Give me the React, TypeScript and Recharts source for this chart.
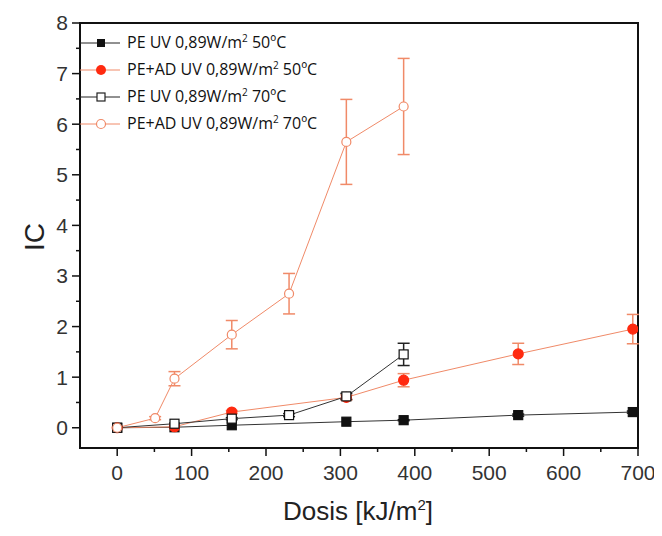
import React from "react";
import { LineChart, Line, XAxis, YAxis, ErrorBar, ReferenceArea } from "recharts";

// dose values in kJ/m2, one array per series
const doseA = [0, 77, 154, 308, 385, 539, 693];
const peUv50 = [0, 0.01, 0.05, 0.12, 0.15, 0.25, 0.31];
const peUv50Err = [0, 0, 0, 0, 0.01, 0.02, 0.02];

const doseB = [0, 77, 154, 308, 385, 539, 693];
const peAdUv50 = [0, 0.02, 0.31, 0.6, 0.94, 1.46, 1.95];
const peAdUv50Err = [0, 0, 0.03, 0.05, 0.13, 0.21, 0.29];

const doseC = [0, 77, 154, 231, 308, 385];
const peUv70 = [0, 0.08, 0.18, 0.25, 0.62, 1.45];
const peUv70Err = [0, 0, 0.02, 0.03, 0.06, 0.22];

const doseD = [0, 51, 77, 154, 231, 308, 385];
const peAdUv70 = [0, 0.19, 0.97, 1.84, 2.65, 5.65, 6.35];
const peAdUv70Err = [0, 0.03, 0.14, 0.28, 0.4, 0.84, 0.95];

const xMajor = [0, 100, 200, 300, 400, 500, 600, 700];
const xMinor = [50, 150, 250, 350, 450, 550, 650];
const yMajor = [0, 1, 2, 3, 4, 5, 6, 7, 8];
const yMinor = [0.5, 1.5, 2.5, 3.5, 4.5, 5.5, 6.5, 7.5];

const names = [
  "PE UV 0,89W/m|2| 50ºC",
  "PE+AD UV 0,89W/m|2| 50ºC",
  "PE UV 0,89W/m|2| 70ºC",
  "PE+AD UV 0,89W/m|2| 70ºC",
];

const build = (xs: number[], ys: number[], es: number[]) =>
  xs.map((x, i) => ({ x, y: ys[i], err: es[i] }));

const RED = "#ff2a10";
const SALMON = "#f08a68";

const SquareDot = (fill: string) => (props: any) => {
  const { cx, cy } = props;
  if (cx == null || cy == null) return null;
  return <rect x={cx - 4.5} y={cy - 4.5} width={9} height={9} fill={fill} stroke="#111" strokeWidth={1.2} />;
};
const CircleDot = (fill: string, stroke: string, r: number) => (props: any) => {
  const { cx, cy } = props;
  if (cx == null || cy == null) return null;
  return <circle cx={cx} cy={cy} r={r} fill={fill} stroke={stroke} strokeWidth={1.2} />;
};

const YTick = (props: any) => {
  const { x, y, payload } = props;
  const major = yMajor.includes(payload.value);
  return (
    <g>
      <line x1={x - (major ? 8 : 4)} x2={x} y1={y} y2={y} stroke="#111" strokeWidth={1.5} />
      {major && (
        <text x={x - 12} y={y} dy="0.35em" textAnchor="end" fontSize={21} fill="#333" fontFamily="Liberation Sans, Arial">
          {payload.value}
        </text>
      )}
    </g>
  );
};

const XTick = (props: any) => {
  const { x, y, payload } = props;
  const major = xMajor.includes(payload.value);
  return (
    <g>
      <line x1={x} x2={x} y1={y} y2={y + (major ? 8 : 4)} stroke="#111" strokeWidth={1.5} />
      {major && (
        <text x={x} y={y + 25} dy="0.35em" textAnchor="middle" fontSize={21} fill="#333" fontFamily="Liberation Sans, Arial">
          {payload.value}
        </text>
      )}
    </g>
  );
};

const legendIcons = [
  (
    <svg width={40} height={14}>
      <line x1={0} x2={40} y1={7} y2={7} stroke="#222" />
      <rect x={17} y={3} width={8} height={8} fill="#111" />
    </svg>
  ),
  (
    <svg width={40} height={14}>
      <line x1={0} x2={40} y1={7} y2={7} stroke={SALMON} />
      <circle cx={21} cy={7} r={5} fill={RED} />
    </svg>
  ),
  (
    <svg width={40} height={14}>
      <line x1={0} x2={40} y1={7} y2={7} stroke="#222" />
      <rect x={17} y={3} width={8} height={8} fill="#fff" stroke="#222" strokeWidth={1.2} />
    </svg>
  ),
  (
    <svg width={40} height={14}>
      <line x1={0} x2={40} y1={7} y2={7} stroke={SALMON} />
      <circle cx={21} cy={7} r={4.5} fill="#fff" stroke={SALMON} strokeWidth={1.2} />
    </svg>
  ),
];

const LegendBox = () => (
  <div style={{ position: "absolute", left: 72, top: 21, fontFamily: "Open Sans", fontSize: 16, color: "#111" }}>
    {names.map((n, i) => {
      const [a, b, c] = n.split("|");
      return (
        <div key={n} style={{ display: "flex", alignItems: "center", height: 27 }}>
          {legendIcons[i]}
          <span style={{ marginLeft: 7, whiteSpace: "nowrap" }}>
            {a}
            <sup style={{ fontSize: 10 }}>{b}</sup>
            {c}
          </span>
        </div>
      );
    })}
  </div>
);

export default function App() {
  const s1 = build(doseA, peUv50, peUv50Err);
  const s2 = build(doseB, peAdUv50, peAdUv50Err);
  const s3 = build(doseC, peUv70, peUv70Err);
  const s4 = build(doseD, peAdUv70, peAdUv70Err);
  return (
    <div style={{ position: "relative", width: 654, height: 520, background: "#fff" }}>
      <LineChart width={654} height={520} margin={{ top: 15, right: 24, left: 0, bottom: 0 }} style={{ overflow: "visible" }}>
        <XAxis
          dataKey="x"
          type="number"
          domain={[-50, 700]}
          ticks={[...xMajor, ...xMinor].sort((a, b) => a - b)}
          tick={<XTick />}
          tickLine={false}
          tickSize={0}
          tickMargin={0}
          height={80}
          axisLine={{ stroke: "#111", strokeWidth: 2 }}
          allowDataOverflow
        />
        <YAxis
          type="number"
          domain={[-0.4, 8]}
          ticks={[...yMajor, ...yMinor].sort((a, b) => a - b)}
          tick={<YTick />}
          tickLine={false}
          tickSize={0}
          tickMargin={0}
          width={72}
          axisLine={{ stroke: "#111", strokeWidth: 2 }}
          allowDataOverflow
        />
        <ReferenceArea x1={-50} x2={700} y1={-0.4} y2={8} fill="none" stroke="#111" strokeWidth={2} />
        <Line data={s1} dataKey="y" name="PE UV 50" stroke="#333" strokeWidth={1} dot={SquareDot("#111")} isAnimationActive={false}>
          <ErrorBar dataKey="err" width={6} stroke="#111" isAnimationActive={false} />
        </Line>
        <Line data={s2} dataKey="y" name="PE+AD UV 50" stroke={SALMON} strokeWidth={1} dot={CircleDot(RED, RED, 5)} isAnimationActive={false}>
          <ErrorBar dataKey="err" width={6} stroke={SALMON} isAnimationActive={false} />
        </Line>
        <Line data={s3} dataKey="y" name="PE UV 70" stroke="#333" strokeWidth={1} dot={SquareDot("#fff")} isAnimationActive={false}>
          <ErrorBar dataKey="err" width={6} stroke="#222" isAnimationActive={false} />
        </Line>
        <Line data={s4} dataKey="y" name="PE+AD UV 70" stroke={SALMON} strokeWidth={1} dot={CircleDot("#fff", SALMON, 4.5)} isAnimationActive={false}>
          <ErrorBar dataKey="err" width={6} stroke={SALMON} isAnimationActive={false} />
        </Line>
      </LineChart>
      <LegendBox />
      <div
        style={{
          position: "absolute",
          left: 27,
          top: 229,
          transform: "translate(-50%, -50%) rotate(-90deg)",
          fontFamily: "Liberation Sans, Arial",
          fontSize: 28,
          color: "#222",
        }}
      >
        IC
      </div>
      <div
        style={{
          position: "absolute",
          left: 350,
          top: 503,
          transform: "translate(-50%, -50%)",
          fontFamily: "Liberation Sans, Arial",
          fontSize: 26,
          lineHeight: "30px",
          color: "#222",
          whiteSpace: "nowrap",
        }}
      >
        Dosis [kJ/m<sup style={{ fontSize: 15, lineHeight: 0 }}>2</sup>]
      </div>
    </div>
  );
}
